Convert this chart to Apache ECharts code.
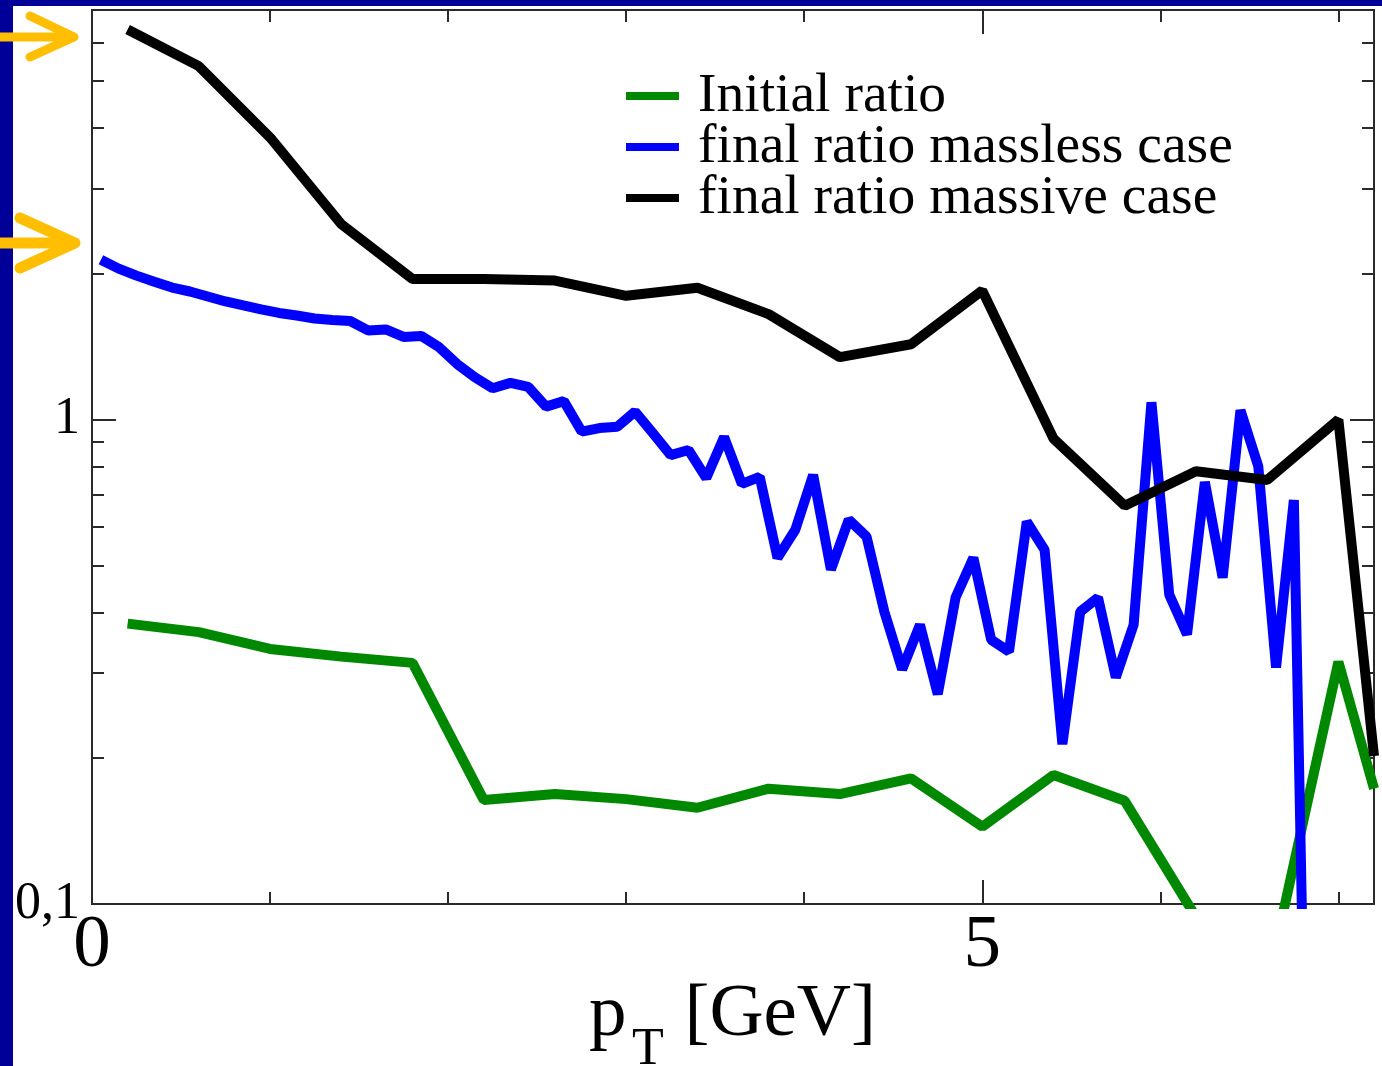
<!DOCTYPE html>
<html>
<head>
<meta charset="utf-8">
<script src="https://cdn.jsdelivr.net/npm/echarts@6/dist/echarts.min.js"></script>
<style>
html,body{margin:0;padding:0;background:#fff;}
#chart{width:1382px;height:1066px;}
</style>
</head>
<body>
<div id="chart"></div>
<script>
// ---- data ----
var seriesNames = ['Initial ratio', 'final ratio massless case', 'final ratio massive case'];

var coarseX = [0.2, 0.6, 1.0, 1.4, 1.8, 2.2, 2.6, 3.0, 3.4, 3.8, 4.2, 4.6, 5.0, 5.4, 5.8, 6.2, 6.6, 7.0, 7.2];
var initialRatio = [0.379, 0.364, 0.336, 0.324, 0.3145, 0.164, 0.1686, 0.1646, 0.158, 0.173, 0.1686, 0.1816, 0.1444, 0.1846, 0.1633, 0.094, 0.068, 0.316, 0.173];
var massiveRatio = [6.38, 5.36, 3.82, 2.53, 1.95, 1.95, 1.935, 1.80, 1.87, 1.65, 1.345, 1.43, 1.845, 0.913, 0.664, 0.782, 0.750, 0.999, 0.202];

var fineX = [0.05, 0.15, 0.25, 0.35, 0.45, 0.55, 0.65, 0.75, 0.85, 0.95,
             1.05, 1.15, 1.25, 1.35, 1.45, 1.55, 1.65, 1.75, 1.85, 1.95,
             2.05, 2.15, 2.25, 2.35, 2.45, 2.55, 2.65, 2.75, 2.85, 2.95,
             3.05, 3.15, 3.25, 3.35, 3.45, 3.55, 3.65, 3.75, 3.85, 3.95,
             4.05, 4.15, 4.25, 4.35, 4.45, 4.55, 4.65, 4.75, 4.85, 4.95,
             5.05, 5.15, 5.25, 5.35, 5.45, 5.55, 5.65, 5.75, 5.85, 5.95,
             6.05, 6.15, 6.25, 6.35, 6.45, 6.55, 6.65, 6.75, 6.85];
var masslessRatio = [2.137, 2.048, 1.981, 1.925, 1.872, 1.837, 1.794, 1.752, 1.719, 1.687,
                     1.659, 1.639, 1.616, 1.605, 1.597, 1.527, 1.534, 1.480, 1.487, 1.409,
                     1.302, 1.222, 1.160, 1.190, 1.168, 1.063, 1.091, 0.944, 0.960, 0.966,
                     1.038, 0.937, 0.844, 0.865, 0.757, 0.920, 0.736, 0.761, 0.518, 0.592,
                     0.768, 0.490, 0.621, 0.573, 0.401, 0.305, 0.377, 0.271, 0.429, 0.518,
                     0.351, 0.332, 0.615, 0.538, 0.2137, 0.401, 0.429, 0.2935, 0.377, 1.085,
                     0.435, 0.360, 0.743, 0.4715, 1.045, 0.801, 0.3077, 0.682, 0.009];

var xMajorTicks = [0, 5];
var xMinorTicks = [1, 2, 3, 4, 6, 7];
var yMajorTicks = [0.1, 1];
var yMinorTicks = [0.2, 0.3, 0.4, 0.5, 0.6, 0.7, 0.8, 0.9, 2, 3, 4, 5, 6, 7];
var yTickLabels = {'0.1': '0,1', '1': '1'};
var xTitle = {main: 'p', sub: 'T', unit: '[GeV]'};

// ---- build ----
function pairs(xs, ys){ return xs.map(function(x, i){ return [x, ys[i]]; }); }

var FONT = 'Liberation Serif';
var AX = '#2a2a2a';

function xAx(pos, ticks, len, showLabel){
  return {
    type: 'value', position: pos, min: 0, max: 7.2, gridIndex: 0,
    axisLine: {show: true, onZero: false, lineStyle: {color: AX, width: 2}},
    axisTick: {show: true, inside: true, length: len, customValues: ticks, lineStyle: {color: AX, width: 2}},
    axisLabel: showLabel ? {show: true, customValues: xMajorTicks, fontFamily: FONT, fontSize: 75, color: '#000', margin: 5} : {show: false},
    splitLine: {show: false}, minorTick: {show: false}
  };
}
function yAx(pos, ticks, len, showLabel){
  return {
    type: 'log', logBase: 10, position: pos, min: 0.1, max: 7, gridIndex: 0,
    axisLine: {show: true, onZero: false, lineStyle: {color: AX, width: 2}},
    axisTick: {show: true, inside: true, length: len, customValues: ticks, lineStyle: {color: AX, width: 2}},
    axisLabel: showLabel ? {show: true, customValues: yMajorTicks, fontFamily: FONT, fontSize: 52, color: '#000', margin: 12,
      formatter: function(v){ return yTickLabels[String(+v.toPrecision(3))] || ''; }} : {show: false},
    splitLine: {show: false}
  };
}

var xAxes = [xAx('bottom', xMajorTicks, 24, true), xAx('bottom', xMinorTicks, 12, false),
             xAx('top', xMajorTicks, 24, false), xAx('top', xMinorTicks, 12, false)];
var yAxes = [yAx('left', yMajorTicks, 24, true), yAx('left', yMinorTicks, 12, false),
             yAx('right', yMajorTicks, 24, false), yAx('right', yMinorTicks, 12, false)];

var colors = ['#008800', '#0000ff', '#000000'];
function lineSeries(name, data, color){
  return {
    name: name, type: 'line', xAxisIndex: 0, yAxisIndex: 0, data: data,
    showSymbol: false, symbol: 'none', clip: true, animation: false,
    color: color,
    lineStyle: {color: color, width: 10, join: 'bevel', cap: 'butt'}
  };
}

var chart = echarts.init(document.getElementById('chart'), null, {renderer: 'canvas'});
chart.setOption({
  animation: false,
  backgroundColor: '#ffffff',
  grid: {left: 92, right: 8, top: 10, bottom: 162, containLabel: false, outerBoundsMode: 'none'},
  xAxis: xAxes,
  yAxis: yAxes,
  legend: {
    orient: 'vertical', left: 621, top: 63, itemGap: -5,
    icon: 'rect', itemWidth: 53, itemHeight: 8,
    data: seriesNames,
    textStyle: {fontFamily: FONT, fontSize: 55.5, color: '#000', padding: [0, 0, 0, 14]}
  },
  series: [
    lineSeries(seriesNames[0], pairs(coarseX, initialRatio), colors[0]),
    lineSeries(seriesNames[1], pairs(fineX, masslessRatio), colors[1]),
    lineSeries(seriesNames[2], pairs(coarseX, massiveRatio), colors[2])
  ],
  graphic: [
    {type: 'rect', left: 0, top: 0, z: 100, shape: {x: 0, y: 0, width: 13, height: 1066}, style: {fill: '#000099'}},
    {type: 'rect', left: 0, top: 0, z: 100, shape: {x: 0, y: 0, width: 1382, height: 6}, style: {fill: '#000099'}},
    {type: 'polyline', z: 101, shape: {points: [[0, 37], [72, 37]]}, style: {stroke: '#ffbf00', lineWidth: 9, lineCap: 'round', fill: null}},
    {type: 'polyline', z: 101, shape: {points: [[30, 16], [74, 37], [30, 57]]}, style: {stroke: '#ffbf00', lineWidth: 9, lineCap: 'round', lineJoin: 'round', fill: null}},
    {type: 'polyline', z: 101, shape: {points: [[0, 243], [73, 243]]}, style: {stroke: '#ffbf00', lineWidth: 11, lineCap: 'round', fill: null}},
    {type: 'polyline', z: 101, shape: {points: [[20, 218], [75, 243], [20, 268]]}, style: {stroke: '#ffbf00', lineWidth: 11, lineCap: 'round', lineJoin: 'round', fill: null}},
    {type: 'text', z: 50, style: {text: xTitle.main, x: 589, y: 1015, fontFamily: FONT, fontSize: 75, fill: '#000', align: 'left', verticalAlign: 'middle'}},
    {type: 'text', z: 50, style: {text: xTitle.sub, x: 632, y: 1050, fontFamily: FONT, fontSize: 52, fill: '#000', align: 'left', verticalAlign: 'middle'}},
    {type: 'text', z: 50, style: {text: xTitle.unit, x: 876, y: 1015, fontFamily: FONT, fontSize: 75, fill: '#000', align: 'right', verticalAlign: 'middle'}}
  ]
});
</script>
</body>
</html>
